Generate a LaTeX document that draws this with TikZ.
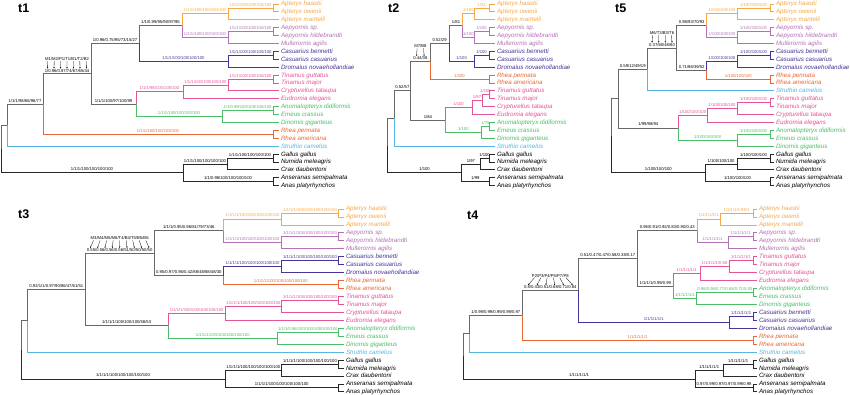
\documentclass[tikz,border=0pt]{standalone}
\usepackage{fontspec}
\setmainfont{Liberation Sans}
\usetikzlibrary{calc,arrows.meta}
\definecolor{cApt}{RGB}{246,168,72}
\definecolor{cAep}{RGB}{180,114,182}
\definecolor{cCas}{RGB}{72,52,150}
\definecolor{cTin}{RGB}{228,84,152}
\definecolor{cMoa}{RGB}{76,190,104}
\definecolor{cRhe}{RGB}{234,104,54}
\definecolor{cStr}{RGB}{84,182,226}
\definecolor{cBk}{RGB}{105,105,105}
\definecolor{cOut}{RGB}{40,40,40}
\tikzset{
  brn/.style={line width=0.8pt},
  bk/.style={draw=cBk,text=black},
  ou/.style={draw=cOut,text=black},
  apt/.style={draw=cApt,text=cApt},
  aep/.style={draw=cAep,text=cAep},
  cas/.style={draw=cCas,text=cCas},
  tin/.style={draw=cTin,text=cTin},
  moa/.style={draw=cMoa,text=cMoa},
  rhe/.style={draw=cRhe,text=cRhe},
  stru/.style={draw=cStr,text=cStr},
  blab/.style={font=\fontsize{4.2}{4.2}\selectfont, inner sep=0.3pt},
  tax/.style={font=\fontsize{6.2}{6.2}\selectfont\itshape, inner xsep=1.8pt, inner ysep=0pt},
  ttl/.style={font=\fontsize{12.5}{12.5}\selectfont\bfseries, inner sep=0pt, anchor=base west},
  arr/.style={draw=black, line width=0.3pt, -{Stealth[length=1.5pt,width=1.4pt]}},
}
% internal node: name, x, first child, last child
\newcommand\ND[4]{\coordinate (tmp) at ($(#3)!0.5!(#4)$);\coordinate (tmpx) at (#2,0);\coordinate (#1) at (tmpx |- tmp);}
% tip: name, x, y, colour, text
\newcommand\TP[5]{\coordinate (#1) at (#2,#3);\node[tax,text=#4,anchor=base west] (#1t) at ([yshift=-2pt]#1) {#5};}
% branch with label / without label
\newcommand\BR[4]{\draw[brn,#1] (#2) |- (#3) node[blab,pos=0.75,above=1.2pt]{#4};}
\newcommand\BN[3]{\draw[brn,#1] (#2) |- (#3);}
% annotated branch: style, parent, child, names, values, count
\newcommand\AN[6]{%
  \path (#2) |- (#3) coordinate[pos=0.75] (#3m);
  \node[blab,anchor=south,text=black] (#3v) at ([yshift=1.2pt]#3m) {#5};
  \node[blab,anchor=south,text=black] (#3n) at ([yshift=7.5pt]#3v.north) {#4};
  \foreach \i in {1,...,#6}{\pgfmathsetmacro\ff{(\i-0.5)/#6}
    \draw[arr] ($(#3n.south west)!\ff!(#3n.south east)$) -- ($(#3v.north west)!\ff!(#3v.north east)$);}
  \draw[brn,#1] (#2) |- (#3);}
\newcommand\TA[3]{\TP{a#1}{279}{4+7.9*#1}{#2}{#3}}
\newcommand\TB[3]{\TP{b#1}{495}{4+7.9*#1}{#2}{#3}}
\newcommand\TC[3]{\TP{c#1}{774}{4+7.9*#1}{#2}{#3}}
\newcommand\TD[3]{\TP{d#1}{344}{209+7.95*#1}{#2}{#3}}
\newcommand\TE[3]{\TP{e#1}{757}{209+7.95*#1}{#2}{#3}}
\begin{document}
\begin{tikzpicture}[x=1pt,y=-1pt]
\useasboundingbox[fill=white] (0,0) rectangle (850,395);
% ---------------- titles
\node[ttl] (T1) at (18,12.5) {t1};
\node[ttl] (T2) at (388,13) {t2};
\node[ttl] (T5) at (615,13) {t5};
\node[ttl] (T3) at (18,218.5) {t3};
\node[ttl] (T4) at (467,219) {t4};
% ================= t1
\TA{0}{cApt}{Apteryx haastii}
\TA{1}{cApt}{Apteryx owenii}
\TA{2}{cApt}{Apteryx mantelli}
\TA{3}{cAep}{Aepyornis sp.}
\TA{4}{cAep}{Aepyornis hildebrandti}
\TA{5}{cAep}{Mullerornis agilis}
\TA{6}{cCas}{Casuarius bennetti}
\TA{7}{cCas}{Casuarius casuarius}
\TA{8}{cCas}{Dromaius novaehollandiae}
\TA{9}{cTin}{Tinamus guttatus}
\TA{10}{cTin}{Tinamus major}
\TA{11}{cTin}{Crypturellus tataupa}
\TA{12}{cTin}{Eudromia elegans}
\TA{13}{cMoa}{Anomalopteryx didiformis}
\TA{14}{cMoa}{Emeus crassus}
\TA{15}{cMoa}{Dinornis giganteus}
\TA{16}{cRhe}{Rhea pennata}
\TA{17}{cRhe}{Rhea americana}
\TA{18}{cStr}{Struthio camelus}
\TA{19}{black}{Gallus gallus}
\TA{20}{black}{Numida meleagris}
\TA{21}{black}{Crax daubentoni}
\TA{22}{black}{Anseranas semipalmata}
\TA{23}{black}{Anas platyrhynchos}
\ND{g1}{273}{a0}{a1}\ND{G1}{228}{g1}{a2}
\ND{h1}{273}{a3}{a4}\ND{H1}{228}{h1}{a5}
\ND{E1}{182}{G1}{H1}
\ND{f1}{273}{a6}{a7}\ND{F1}{228}{f1}{a8}
\ND{C1}{139}{E1}{F1}
\ND{k1}{273}{a9}{a10}\ND{K1}{228}{k1}{a11}\ND{I1}{183}{K1}{a12}
\ND{j1}{273}{a13}{a14}\ND{J1}{222}{j1}{a15}
\ND{D1}{136}{I1}{J1}
\ND{B1}{91}{C1}{D1}
\ND{L1}{273}{a16}{a17}
\ND{A1}{43}{B1}{L1}
\ND{P1}{7}{A1}{a18}
\ND{m1}{273}{a19}{a20}\ND{M1}{227}{m1}{a21}
\ND{O1}{273}{a22}{a23}
\ND{N1}{183}{M1}{O1}
\ND{R1}{1}{P1}{N1}
\BN{bk}{R1}{P1}
\BR{ou}{R1}{N1}{1/1/1/100/100/100/100}
\BR{bk}{P1}{A1}{1/1/1/98/66/96/77}
\BN{stru}{P1}{a18}
\AN{bk}{A1}{B1}{M1/M2/P1/T1/B1/T2/B2}{1/0.96/0.87/74/67/65/44}{7}
\BR{rhe}{A1}{L1}{1/1/1/100/100/100/100}
\BN{rhe}{L1}{a16}\BN{rhe}{L1}{a17}
\BR{bk}{B1}{C1}{1/0.96/0.75/95/73/15/27}
\BR{bk}{B1}{D1}{1/1/1/100/97/100/99}
\BR{bk}{C1}{E1}{1/1/0.99/95/90/97/95}
\BR{cas}{C1}{F1}{1/1/1/100/100/100/100}
\BR{apt}{E1}{G1}{1/1/1/100/100/100/100}
\BR{apt}{G1}{g1}{1/1/1/100/100/100/100}
\BN{apt}{g1}{a0}\BN{apt}{g1}{a1}\BN{apt}{G1}{a2}
\BR{aep}{E1}{H1}{1/1/1/100/100/100/100}
\BR{aep}{H1}{h1}{1/1/1/100/100/100/100}
\BN{aep}{h1}{a3}\BN{aep}{h1}{a4}\BN{aep}{H1}{a5}
\BR{cas}{F1}{f1}{1/1/1/100/100/100/100}
\BN{cas}{f1}{a6}\BN{cas}{f1}{a7}\BN{cas}{F1}{a8}
\BR{tin}{D1}{I1}{1/1/1/98/100/100/100}
\BR{tin}{I1}{K1}{1/1/1/100/100/100/100}
\BR{tin}{K1}{k1}{1/1/1/100/100/100/100}
\BN{tin}{k1}{a9}\BN{tin}{k1}{a10}\BN{tin}{K1}{a11}\BN{tin}{I1}{a12}
\BR{moa}{D1}{J1}{1/1/1/100/100/100/100}
\BR{moa}{J1}{j1}{1/1/0.99/100/100/100/100}
\BN{moa}{j1}{a13}\BN{moa}{j1}{a14}\BN{moa}{J1}{a15}
\BR{ou}{N1}{M1}{1/1/1/100/100/100/100}
\BR{ou}{M1}{m1}{1/1/1/100/100/100/100}
\BN{ou}{m1}{a19}\BN{ou}{m1}{a20}\BN{ou}{M1}{a21}
\BR{ou}{N1}{O1}{1/1/0.98/100/100/100/100}
\BN{ou}{O1}{a22}\BN{ou}{O1}{a23}
% ================= t2
\TB{0}{cApt}{Apteryx haastii}
\TB{1}{cApt}{Apteryx owenii}
\TB{2}{cApt}{Apteryx mantelli}
\TB{3}{cAep}{Aepyornis sp.}
\TB{4}{cAep}{Aepyornis hildebrandti}
\TB{5}{cAep}{Mullerornis agilis}
\TB{6}{cCas}{Casuarius bennetti}
\TB{7}{cCas}{Casuarius casuarius}
\TB{8}{cCas}{Dromaius novaehollandiae}
\TB{9}{cRhe}{Rhea pennata}
\TB{10}{cRhe}{Rhea americana}
\TB{11}{cTin}{Tinamus guttatus}
\TB{12}{cTin}{Tinamus major}
\TB{13}{cTin}{Crypturellus tataupa}
\TB{14}{cTin}{Eudromia elegans}
\TB{15}{cMoa}{Anomalopteryx didiformis}
\TB{16}{cMoa}{Emeus crassus}
\TB{17}{cMoa}{Dinornis giganteus}
\TB{18}{cStr}{Struthio camelus}
\TB{19}{black}{Gallus gallus}
\TB{20}{black}{Numida meleagris}
\TB{21}{black}{Crax daubentoni}
\TB{22}{black}{Anseranas semipalmata}
\TB{23}{black}{Anas platyrhynchos}
\ND{g2}{489}{b0}{b1}\ND{G2}{474}{g2}{b2}
\ND{h2}{489}{b3}{b4}\ND{H2}{474}{h2}{b5}
\ND{E2}{462.7}{G2}{H2}
\ND{f2}{489}{b6}{b7}\ND{F2}{474}{f2}{b8}
\ND{C2}{449.3}{E2}{F2}
\ND{L2}{489}{b9}{b10}
\ND{B2}{430}{C2}{L2}
\ND{k2}{489}{b11}{b12}\ND{K2}{482}{k2}{b13}\ND{I2}{472}{K2}{b14}
\ND{j2}{489}{b15}{b16}\ND{J2}{481.7}{j2}{b17}
\ND{T2x}{445}{I2}{J2}
\ND{A2}{410.7}{B2}{T2x}
\ND{P2}{394}{A2}{b18}
\ND{m2}{489}{b19}{b20}\ND{M2}{480}{m2}{b21}
\ND{O2}{489}{b22}{b23}
\ND{N2}{461.7}{M2}{O2}
\ND{R2}{387.3}{P2}{N2}
\BN{bk}{R2}{P2}
\BR{ou}{R2}{N2}{1/100}
\BR{bk}{P2}{A2}{0.52/57}
\BN{stru}{P2}{b18}
\AN{bk}{A2}{B2}{M7/B8}{0.44/38}{2}
\BR{bk}{A2}{T2x}{1/84}
\BR{bk}{B2}{C2}{0.52/29}
\BR{rhe}{B2}{L2}{1/100}
\BN{rhe}{L2}{b9}\BN{rhe}{L2}{b10}
\BR{bk}{C2}{E2}{1/81}
\BR{cas}{C2}{F2}{1/100}
\BR{apt}{E2}{G2}{1/100}
\BR{apt}{G2}{g2}{1/43}
\BN{apt}{g2}{b0}\BN{apt}{g2}{b1}\BN{apt}{G2}{b2}
\BR{aep}{E2}{H2}{1/100}
\BR{aep}{H2}{h2}{1/100}
\BN{aep}{h2}{b3}\BN{aep}{h2}{b4}\BN{aep}{H2}{b5}
\BR{cas}{F2}{f2}{1/100}
\BN{cas}{f2}{b6}\BN{cas}{f2}{b7}\BN{cas}{F2}{b8}
\BR{tin}{T2x}{I2}{1/100}
\BR{tin}{I2}{K2}{1/97}
\BR{tin}{K2}{k2}{1/100}
\BN{tin}{k2}{b11}\BN{tin}{k2}{b12}\BN{tin}{K2}{b13}\BN{tin}{I2}{b14}
\BR{moa}{T2x}{J2}{1/100}
\BR{moa}{J2}{j2}{1/75}
\BN{moa}{j2}{b15}\BN{moa}{j2}{b16}\BN{moa}{J2}{b17}
\BR{ou}{N2}{M2}{1/97}
\BR{ou}{M2}{m2}{1/100}
\BN{ou}{m2}{b19}\BN{ou}{m2}{b20}\BN{ou}{M2}{b21}
\BR{ou}{N2}{O2}{1/99}
\BN{ou}{O2}{b22}\BN{ou}{O2}{b23}
% ================= t5
\TC{0}{cApt}{Apteryx haastii}
\TC{1}{cApt}{Apteryx owenii}
\TC{2}{cApt}{Apteryx mantelli}
\TC{3}{cAep}{Aepyornis sp.}
\TC{4}{cAep}{Aepyornis hildebrandti}
\TC{5}{cAep}{Mullerornis agilis}
\TC{6}{cCas}{Casuarius bennetti}
\TC{7}{cCas}{Casuarius casuarius}
\TC{8}{cCas}{Dromaius novaehollandiae}
\TC{9}{cRhe}{Rhea pennata}
\TC{10}{cRhe}{Rhea americana}
\TC{11}{cStr}{Struthio camelus}
\TC{12}{cTin}{Tinamus guttatus}
\TC{13}{cTin}{Tinamus major}
\TC{14}{cTin}{Crypturellus tataupa}
\TC{15}{cTin}{Eudromia elegans}
\TC{16}{cMoa}{Anomalopteryx didiformis}
\TC{17}{cMoa}{Emeus crassus}
\TC{18}{cMoa}{Dinornis giganteus}
\TC{19}{black}{Gallus gallus}
\TC{20}{black}{Numida meleagris}
\TC{21}{black}{Crax daubentoni}
\TC{22}{black}{Anseranas semipalmata}
\TC{23}{black}{Anas platyrhynchos}
\ND{g5}{770}{c0}{c1}\ND{G5}{737}{g5}{c2}
\ND{h5}{770}{c3}{c4}\ND{H5}{737}{h5}{c5}
\ND{E5}{706.7}{G5}{H5}
\ND{f5}{770}{c6}{c7}\ND{F5}{737}{f5}{c8}
\ND{L5}{770}{c9}{c10}
\ND{X5}{706.7}{F5}{L5}
\ND{C5}{676.7}{E5}{X5}
\ND{A5}{647.3}{C5}{c11}
\ND{k5}{770}{c12}{c13}\ND{K5}{737}{k5}{c14}\ND{I5}{707}{K5}{c15}
\ND{j5}{770}{c16}{c17}\ND{J5}{737}{j5}{c18}
\ND{T5x}{678.3}{I5}{J5}
\ND{B5}{618.3}{A5}{T5x}
\ND{m5}{770}{c19}{c20}\ND{M5}{737}{m5}{c21}
\ND{O5}{770}{c22}{c23}
\ND{N5}{705}{M5}{O5}
\ND{R5}{611.7}{B5}{N5}
\BN{bk}{R5}{B5}
\BR{ou}{R5}{N5}{1/100/100/100}
\BR{bk}{B5}{A5}{0.59/12/49/19}
\BR{bk}{B5}{T5x}{1/99/98/94}
\AN{bk}{A5}{C5}{M6/T3/B3/T6}{0.37/60/48/80}{4}
\BN{stru}{A5}{c11}
\BR{bk}{C5}{E5}{0.98/93/70/93}
\BR{bk}{C5}{X5}{0.71/86/39/52}
\BR{apt}{E5}{G5}{1/100/100/100}
\BR{apt}{G5}{g5}{1/100/100/100}
\BN{apt}{g5}{c0}\BN{apt}{g5}{c1}\BN{apt}{G5}{c2}
\BR{aep}{E5}{H5}{1/100/100/100}
\BR{aep}{H5}{h5}{1/100/100/100}
\BN{aep}{h5}{c3}\BN{aep}{h5}{c4}\BN{aep}{H5}{c5}
\BR{cas}{X5}{F5}{1/100/100/100}
\BR{cas}{F5}{f5}{1/100/100/100}
\BN{cas}{f5}{c6}\BN{cas}{f5}{c7}\BN{cas}{F5}{c8}
\BR{rhe}{X5}{L5}{1/100/100/100}
\BN{rhe}{L5}{c9}\BN{rhe}{L5}{c10}
\BR{tin}{T5x}{I5}{1/100/100/100}
\BR{tin}{I5}{K5}{1/100/100/100}
\BR{tin}{K5}{k5}{1/100/100/100}
\BN{tin}{k5}{c12}\BN{tin}{k5}{c13}\BN{tin}{K5}{c14}\BN{tin}{I5}{c15}
\BR{moa}{T5x}{J5}{1/100/100/100}
\BR{moa}{J5}{j5}{1/100/100/100}
\BN{moa}{j5}{c16}\BN{moa}{j5}{c17}\BN{moa}{J5}{c18}
\BR{ou}{N5}{M5}{1/100/100/100}
\BR{ou}{M5}{m5}{1/100/100/100}
\BN{ou}{m5}{c19}\BN{ou}{m5}{c20}\BN{ou}{M5}{c21}
\BR{ou}{N5}{O5}{1/100/100/100}
\BN{ou}{O5}{c22}\BN{ou}{O5}{c23}
% ================= t3
\TD{0}{cApt}{Apteryx haastii}
\TD{1}{cApt}{Apteryx owenii}
\TD{2}{cApt}{Apteryx mantelli}
\TD{3}{cAep}{Aepyornis sp.}
\TD{4}{cAep}{Aepyornis hildebrandti}
\TD{5}{cAep}{Mullerornis agilis}
\TD{6}{cCas}{Casuarius bennetti}
\TD{7}{cCas}{Casuarius casuarius}
\TD{8}{cCas}{Dromaius novaehollandiae}
\TD{9}{cRhe}{Rhea pennata}
\TD{10}{cRhe}{Rhea americana}
\TD{11}{cTin}{Tinamus guttatus}
\TD{12}{cTin}{Tinamus major}
\TD{13}{cTin}{Crypturellus tataupa}
\TD{14}{cTin}{Eudromia elegans}
\TD{15}{cMoa}{Anomalopteryx didiformis}
\TD{16}{cMoa}{Emeus crassus}
\TD{17}{cMoa}{Dinornis giganteus}
\TD{18}{cStr}{Struthio camelus}
\TD{19}{black}{Gallus gallus}
\TD{20}{black}{Numida meleagris}
\TD{21}{black}{Crax daubentoni}
\TD{22}{black}{Anseranas semipalmata}
\TD{23}{black}{Anas platyrhynchos}
\ND{g3}{338.3}{d0}{d1}\ND{G3}{281.7}{g3}{d2}
\ND{h3}{338.3}{d3}{d4}\ND{H3}{281.7}{h3}{d5}
\ND{E3}{223.3}{G3}{H3}
\ND{f3}{338.3}{d6}{d7}\ND{Q3}{281.7}{f3}{d8}
\ND{L3}{338.3}{d9}{d10}
\ND{F3}{223.3}{Q3}{L3}
\ND{C3}{154.3}{E3}{F3}
\ND{k3}{338.3}{d11}{d12}\ND{K3}{281.7}{k3}{d13}\ND{I3}{225}{K3}{d14}
\ND{j3}{338.3}{d15}{d16}\ND{J3}{277.3}{j3}{d17}
\ND{T3x}{168.3}{I3}{J3}
\ND{B3}{85}{C3}{T3x}
\ND{P3}{27.7}{B3}{d18}
\ND{m3}{338.3}{d19}{d20}\ND{M3}{281.7}{m3}{d21}
\ND{O3}{338.3}{d22}{d23}
\ND{N3}{225}{M3}{O3}
\ND{R3}{21}{P3}{N3}
\BN{bk}{R3}{P3}
\BR{ou}{R3}{N3}{1/1/1/1/100/100/100/100/100}
\BR{bk}{P3}{B3}{0.92/1/1/0.97/90/86/47/61/51}
\BN{stru}{P3}{d18}
\AN{bk}{B3}{C3}{M3/M4/M5/M6/T4/B4/T5/B5/B6}{0.55/0.56/0.56/0.56/51/50/50/50/50}{9}
\BR{bk}{B3}{T3x}{1/1/1/1/100/100/100/58/53}
\BR{bk}{C3}{E3}{1/1/1/0.95/0.96/81/79/73/46}
\BR{bk}{C3}{F3}{0.95/0.97/0.96/0.42/88/48/88/48/30}
\BR{apt}{E3}{G3}{1/1/1/1/100/100/100/100/100}
\BR{apt}{G3}{g3}{1/1/1/1/100/100/100/100/100}
\BN{apt}{g3}{d0}\BN{apt}{g3}{d1}\BN{apt}{G3}{d2}
\BR{aep}{E3}{H3}{1/1/1/1/100/100/100/100/100}
\BR{aep}{H3}{h3}{1/1/1/1/100/100/100/100/100}
\BN{aep}{h3}{d3}\BN{aep}{h3}{d4}\BN{aep}{H3}{d5}
\BR{cas}{F3}{Q3}{1/1/1/1/100/100/100/100/100}
\BR{cas}{Q3}{f3}{1/1/1/1/100/100/100/100/100}
\BN{cas}{f3}{d6}\BN{cas}{f3}{d7}\BN{cas}{Q3}{d8}
\BR{rhe}{F3}{L3}{1/1/1/1/100/100/100/100/100}
\BN{rhe}{L3}{d9}\BN{rhe}{L3}{d10}
\BR{tin}{T3x}{I3}{1/1/1/1/100/100/100/100/100}
\BR{tin}{I3}{K3}{1/1/1/1/100/100/100/100/100}
\BR{tin}{K3}{k3}{1/1/1/1/100/100/100/100/100}
\BN{tin}{k3}{d11}\BN{tin}{k3}{d12}\BN{tin}{K3}{d13}\BN{tin}{I3}{d14}
\BR{moa}{T3x}{J3}{1/1/1/1/100/100/100/100/100}
\BR{moa}{J3}{j3}{1/1/1/0.96/100/100/100/100/100}
\BN{moa}{j3}{d15}\BN{moa}{j3}{d16}\BN{moa}{J3}{d17}
\BR{ou}{N3}{M3}{1/1/1/1/100/100/100/100/100}
\BR{ou}{M3}{m3}{1/1/1/1/100/100/100/100/100}
\BN{ou}{m3}{d19}\BN{ou}{m3}{d20}\BN{ou}{M3}{d21}
\BR{ou}{N3}{O3}{1/1/1/1/100/100/100/100/100}
\BN{ou}{O3}{d22}\BN{ou}{O3}{d23}
% ================= t4
\TE{0}{cApt}{Apteryx haastii}
\TE{1}{cApt}{Apteryx owenii}
\TE{2}{cApt}{Apteryx mantelli}
\TE{3}{cAep}{Aepyornis sp.}
\TE{4}{cAep}{Aepyornis hildebrandti}
\TE{5}{cAep}{Mullerornis agilis}
\TE{6}{cTin}{Tinamus guttatus}
\TE{7}{cTin}{Tinamus major}
\TE{8}{cTin}{Crypturellus tataupa}
\TE{9}{cTin}{Eudromia elegans}
\TE{10}{cMoa}{Anomalopteryx didiformis}
\TE{11}{cMoa}{Emeus crassus}
\TE{12}{cMoa}{Dinornis giganteus}
\TE{13}{cCas}{Casuarius bennetti}
\TE{14}{cCas}{Casuarius casuarius}
\TE{15}{cCas}{Dromaius novaehollandiae}
\TE{16}{cRhe}{Rhea pennata}
\TE{17}{cRhe}{Rhea americana}
\TE{18}{cStr}{Struthio camelus}
\TE{19}{black}{Gallus gallus}
\TE{20}{black}{Numida meleagris}
\TE{21}{black}{Crax daubentoni}
\TE{22}{black}{Anseranas semipalmata}
\TE{23}{black}{Anas platyrhynchos}
\ND{g4}{753}{e0}{e1}\ND{G4}{720}{g4}{e2}
\ND{h4}{753}{e3}{e4}\ND{H4}{728}{h4}{e5}
\ND{E4}{697.3}{G4}{H4}
\ND{k4}{753}{e6}{e7}\ND{K4}{729}{k4}{e8}\ND{I4}{700}{K4}{e9}
\ND{j4}{753}{e10}{e11}\ND{J4}{696.7}{j4}{e12}
\ND{T4x}{673.3}{I4}{J4}
\ND{C4}{637.3}{E4}{T4x}
\ND{f4}{753}{e13}{e14}\ND{F4}{729.3}{f4}{e15}
\ND{B4}{578.3}{C4}{F4}
\ND{L4}{753}{e16}{e17}
\ND{A4}{522.3}{B4}{L4}
\ND{P4}{469.3}{A4}{e18}
\ND{m4}{753}{e19}{e20}\ND{M4}{723.3}{m4}{e21}
\ND{O4}{753}{e22}{e23}
\ND{N4}{695}{M4}{O4}
\ND{R4}{463.3}{P4}{N4}
\BN{bk}{R4}{P4}
\BR{ou}{R4}{N4}{1/1/1/1/1/1}
\BR{bk}{P4}{A4}{1/0.99/0.99/0.99/0.99/0.97}
\BN{stru}{P4}{e18}
\AN{bk}{A4}{B4}{P2/P3/P4/P5/P7/P8}{0.8/0.43/0.51/0.68/0.71/0.84}{6}
\BR{rhe}{A4}{L4}{1/1/1/1/1/1}
\BN{rhe}{L4}{e16}\BN{rhe}{L4}{e17}
\BR{bk}{B4}{C4}{0.51/0.47/0.47/0.58/0.38/0.17}
\BR{cas}{B4}{F4}{1/1/1/1/1/1}
\BR{cas}{F4}{f4}{1/1/1/1/1/1}
\BN{cas}{f4}{e13}\BN{cas}{f4}{e14}\BN{cas}{F4}{e15}
\BR{bk}{C4}{E4}{0.96/0.91/0.92/0.83/0.90/0.43}
\BR{bk}{C4}{T4x}{1/1/1/1/0.99/0.99}
\BR{apt}{E4}{G4}{1/1/1/1/1/1}
\BR{apt}{G4}{g4}{1/1/1/1/0.99/1}
\BN{apt}{g4}{e0}\BN{apt}{g4}{e1}\BN{apt}{G4}{e2}
\BR{aep}{E4}{H4}{1/1/1/1/1/1}
\BR{aep}{H4}{h4}{1/1/1/1/1/1}
\BN{aep}{h4}{e3}\BN{aep}{h4}{e4}\BN{aep}{H4}{e5}
\BR{tin}{T4x}{I4}{1/1/1/1/1/1}
\BR{tin}{I4}{K4}{1/1/1/1/1/0.88}
\BR{tin}{K4}{k4}{1/1/1/1/1/1}
\BN{tin}{k4}{e6}\BN{tin}{k4}{e7}\BN{tin}{K4}{e8}\BN{tin}{I4}{e9}
\BR{moa}{T4x}{J4}{1/1/1/1/1/1}
\BR{moa}{J4}{j4}{0.96/0.96/0.77/0.68/0.71/0.93}
\BN{moa}{j4}{e10}\BN{moa}{j4}{e11}\BN{moa}{J4}{e12}
\BR{ou}{N4}{M4}{1/1/1/1/1/1}
\BR{ou}{M4}{m4}{1/1/1/1/1/1}
\BN{ou}{m4}{e19}\BN{ou}{m4}{e20}\BN{ou}{M4}{e21}
\BR{ou}{N4}{O4}{0.97/0.99/0.97/0.97/0.99/0.98}
\BN{ou}{O4}{e22}\BN{ou}{O4}{e23}
\end{tikzpicture}
\end{document}
